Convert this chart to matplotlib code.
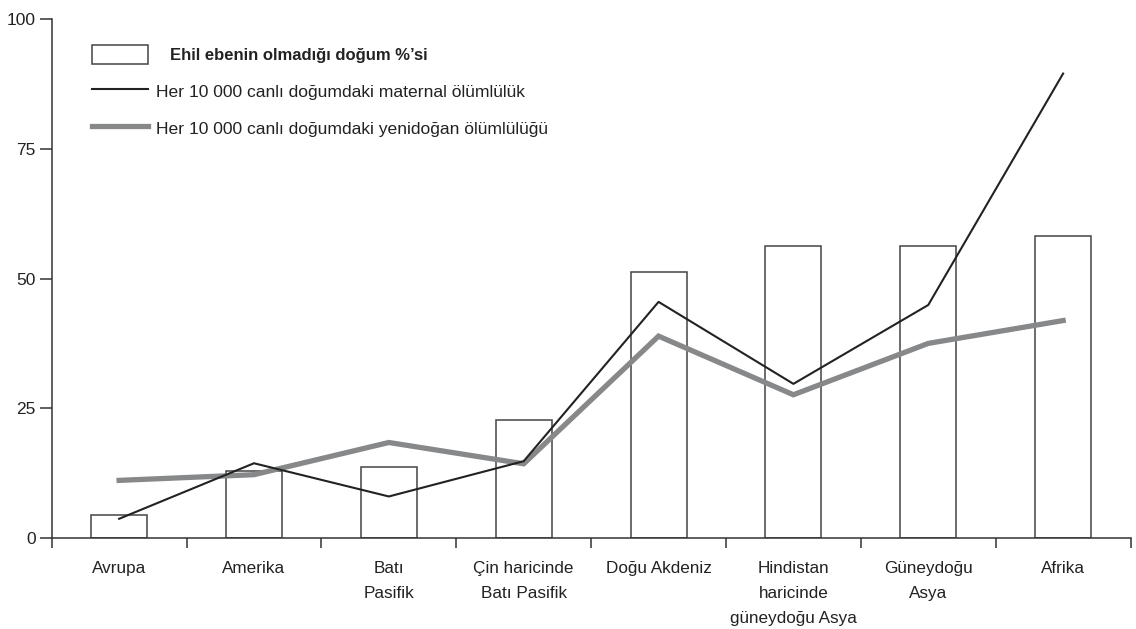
import numpy as np
import matplotlib
matplotlib.use("Agg")
import matplotlib.pyplot as plt
from matplotlib.patches import Patch
from matplotlib.lines import Line2D

plt.rcParams['font.family'] = ['Liberation Sans', 'DejaVu Sans']

# data
regions = ["Avrupa", "Amerika", "Batı\nPasifik", "Çin haricinde\nBatı Pasifik",
           "Doğu Akdeniz", "Hindistan\nharicinde\ngüneydoğu Asya",
           "Güneydoğu\nAsya", "Afrika"]
no_midwife = [4.4, 13.0, 13.6, 22.7, 51.3, 56.3, 56.3, 58.2]
maternal = [3.7, 14.4, 8.0, 14.8, 45.5, 29.7, 44.9, 89.5]
neonatal = [11.1, 12.2, 18.4, 14.3, 38.9, 27.6, 37.5, 41.9]
yticks = [0, 25, 50, 75, 100]

lbl_bar = "Ehil ebenin olmadığı doğum %’si"
lbl_mat = "Her 10 000 canlı doğumdaki maternal ölümlülük"
lbl_neo = "Her 10 000 canlı doğumdaki yenidoğan ölümlülüğü"

dark = '#333333'
grey = '#86888a'
txt = '#222222'

fig = plt.figure(figsize=(11.36, 6.29), dpi=100)
ax = fig.add_axes([0.0455, 0.1447, 0.9497, 0.825])

x = np.arange(len(regions))
ax.bar(x, no_midwife, width=0.415, facecolor='white', edgecolor='#444444',
       linewidth=1.1, zorder=2)
ax.plot(x, neonatal, color=grey, lw=3.8, solid_joinstyle='miter', zorder=3)
ax.plot(x, maternal, color='#222222', lw=1.5, zorder=4)

ax.set_xlim(-0.5, len(regions) - 0.5)
ax.set_ylim(0, 100)

for s in ['top', 'right']:
    ax.spines[s].set_visible(False)
for s in ['left', 'bottom']:
    ax.spines[s].set_color(dark)
    ax.spines[s].set_linewidth(1.1)

ax.set_yticks(yticks)
ax.set_yticklabels([str(v) for v in yticks])
ax.tick_params(axis='y', direction='out', length=8.5, width=1.1, color=dark,
               pad=3, labelsize=12.5, labelcolor=txt)

ax.set_xticks(x)
ax.set_xticklabels(regions, linespacing=1.85)
ax.set_xticks(np.arange(-0.5, len(regions)), minor=True)
ax.tick_params(axis='x', which='major', length=0, pad=16.5, labelsize=12.3,
               labelcolor=txt)
ax.tick_params(axis='x', which='minor', direction='out', length=7.5,
               width=1.1, color=dark)
for t in ax.get_xticklabels():
    t.set_verticalalignment('top')

handles = [Patch(facecolor='white', edgecolor='#444444', linewidth=1.1),
           Line2D([], [], color='#222222', lw=1.5),
           Line2D([], [], color=grey, lw=3.8)]
leg = ax.legend(handles, [lbl_bar, lbl_mat, lbl_neo], loc='upper left',
                bbox_to_anchor=(0.037, 0.950), frameon=False, fontsize=12.6,
                handlelength=3.2, handleheight=1.25, handletextpad=0.5,
                labelspacing=1.05, borderpad=0, borderaxespad=0)
for t in leg.get_texts():
    t.set_color(txt)
leg.get_texts()[0].set_fontweight('bold')
leg.get_texts()[0].set_fontsize(12)
# the bold caption sits a bit further right of its box in the reference
try:
    row0 = leg._legend_handle_box.get_children()[0].get_children()[0]
    row0.sep = 16
except Exception:
    pass

fig.savefig('out.png', dpi=100)
